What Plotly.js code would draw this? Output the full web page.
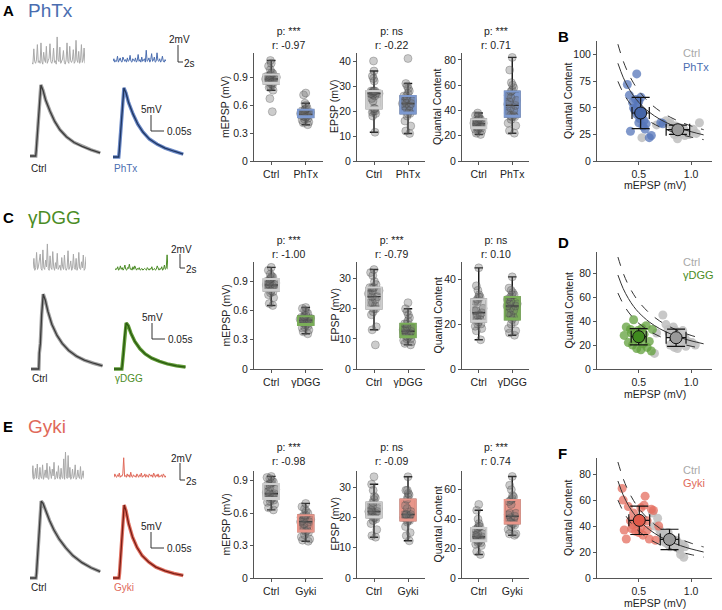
<!DOCTYPE html>
<html>
<head>
<meta charset="utf-8">
<script src="https://cdn.plot.ly/plotly-3.0.1.min.js"></script>
<style>
  html, body { margin: 0; padding: 0; background: #fff; }
  #chart { width: 722px; height: 610px; }
</style>
</head>
<body>
<div id="chart"></div>
<script>
// ---------- data ----------
var conditions = ["PhTx", "γDGG", "Gyki"];
var metricTitles = ["mEPSP (mV)", "EPSP (mV)", "Quantal Content"];

// PhTx row (one entry per cell, mEPSP and quantal content paired)
var phtxCtrlMepsp = [0.53,0.67,0.76,0.79,0.80,0.82,0.83,0.84,0.85,0.86,0.87,0.87,0.88,0.88,0.89,0.90,0.90,0.91,0.92,0.93,0.94,0.95,0.98,1.02,1.05,1.08];
var phtxCtrlQc    = [22,34,38,35,36,33,31,25,33,32,29,21,30,27,28,31,26,29,28,30,24,27,25,30,26,36];
var phtxCtrlEpsp  = [27,26,28,27.5,28,26.5,36,40,20,21,28,27,25,33,19,11.5,19.5,28,27,34,18,32,27,21,20,24];
var phtxMepsp = [0.39,0.41,0.42,0.44,0.45,0.46,0.47,0.48,0.48,0.49,0.50,0.50,0.50,0.51,0.51,0.52,0.53,0.54,0.55,0.56,0.57,0.60,0.62,0.71,0.73];
var phtxQc    = [72,62,28,55,50,48,58,82,44,52,45,56,36,47,40,60,42,33,38,30,35,22,24,36,35];
var phtxEpsp  = [23,22,25,26,19,24,31,41,14,20,12,27,23,30,18,22,11,26,28,19,24,21,29,16,23];
var phtxStats = [["***", "-0.97"], ["ns", "-0.22"], ["***", "0.71"]];

// γDGG row
var dggCtrlMepsp = [0.65,0.67,0.73,0.76,0.78,0.79,0.80,0.83,0.83,0.84,0.85,0.86,0.86,0.86,0.87,0.88,0.89,0.90,0.92,0.93,0.94,0.95,0.97,1.01,1.04];
var dggCtrlQc    = [13,30,45,37,33,30,20,35,24,18,32,26,22,31,17,25,27,21,32,24,26,19,23,22,20];
var dggCtrlEpsp  = [24,22,26,27,20,33,32,28,19,25,21,27,14,13,24,23,29,18,26,31,22,8,20,27,25];
var dggMepsp = [0.36,0.38,0.40,0.42,0.43,0.44,0.45,0.46,0.47,0.48,0.49,0.50,0.50,0.51,0.51,0.52,0.53,0.53,0.54,0.55,0.57,0.58,0.60,0.62,0.63];
var dggQc    = [28,35,22,33,30,20,41,25,29,17,32,27,24,31,28,16,26,34,21,29,36,18,23,15,33];
var dggEpsp  = [12,13,15,16,10,22,19,9,8,12,14,11,17,9.5,12.5,15,13,10,18,8.5,14,11,20,12,10.5];
var dggStats = [["***", "-1.00"], ["***", "-0.79"], ["ns", "0.10"]];

// Gyki row
var gykiCtrlMepsp = [0.63,0.65,0.68,0.70,0.71,0.72,0.73,0.74,0.75,0.76,0.77,0.78,0.78,0.79,0.80,0.82,0.84,0.86,0.87,0.88,0.89,0.90,0.92,0.93,0.94];
var gykiCtrlQc    = [50,40,46,37,35,33,34,28,30,27,29,35,26,28,24,30,25,29,23,27,22,18,26,16,24];
var gykiCtrlEpsp  = [22,21,24,26,20,33.5,31,14,13.5,23,22.5,19,27,18,22,25,21,20,29,16,24,21.5,26.5,22,19.5];
var gykiMepsp = [0.34,0.35,0.36,0.38,0.40,0.42,0.43,0.44,0.45,0.47,0.48,0.50,0.52,0.52,0.53,0.54,0.55,0.56,0.58,0.58,0.60,0.62,0.64,0.66,0.69];
var gykiQc    = [69,60,37,30,55,44,38,41,50,36,42,35,54,39,43,33,56,63,37,44,30,53,52,29,40];
var gykiEpsp  = [21,20,23,28,19,33.5,29,12.3,15,21,22,18.5,27.5,17,20.5,26,21,19.5,29,14,24,20,27,21,19];
var gykiStats = [["***", "-0.98"], ["ns", "-0.09"], ["***", "0.74"]];

// quantal-content vs mEPSP curves (solid = expected, dashed = bounds)
var fitX = [0.3,0.35,0.4,0.45,0.5,0.6,0.7,0.8,0.9,1.0,1.12];
var phtxFit   = [92,78.9,69,61.3,55.2,46,39.4,34.5,30.7,27.6,24.6];
var phtxFitHi = [110,94.3,82.5,73.3,66,55,47.1,41.3,36.7,33,29.5];
var phtxFitLo = [75,64.3,56.3,50,45,37.5,32.1,28.1,25,22.5,20.1];
var dggFit    = [78.3,67.1,58.8,52.2,47,39.2,33.6,29.4,26.1,23.5,21];
var dggFitHi  = [93.3,80,70,62.2,56,46.7,40,35,31.1,28,25];
var dggFitLo  = [63.3,54.3,47.5,42.2,38,31.7,27.1,23.8,21.1,19,17];
var gykiFit   = [74.7,64,56,49.8,44.8,37.3,32,28,24.9,22.4,20];
var gykiFitHi = [89.3,76.6,67,59.6,53.6,44.7,38.3,33.5,29.8,26.8,23.9];
var gykiFitLo = [60,51.4,45,40,36,30,25.7,22.5,20,18,16.1];

// spontaneous recordings (mV above baseline, one sample every 0.35 s)
var phtxCtrlNoise = [0.3,0.1,1.9,0.4,0.2,0.6,2.4,0.3,0.5,0.2,2.6,0.4,0.1,1.5,0.6,0.3,2.2,0.2,0.5,0.8,2.5,0.4,0.2,0.6,2.0,0.3,0.5,0.1,3.3,0.6,0.4,2.1,0.2,0.5,0.7,1.7,0.3,0.1,0.6,2.6,0.4,0.2,2.2,0.5,0.3,0.6,1.8,0.2,0.4,2.9,0.6,0.3,1.6,0.2,0.5,2.4,0.3,0.6,2.0,0.2];
var phtxNoise     = [0.2,0.5,0.1,0.3,0.2,0.8,0.1,0.3,0.6,0.2,0.1,0.7,0.3,0.2,0.4,0.1,0.6,0.2,0.3,0.9,0.2,0.1,0.5,0.3,0.2,0.6,0.1,0.3,1.0,0.2,0.4,0.1,0.7,0.2,0.3,0.5,0.1,1.5,0.2,0.3,0.6,0.1,0.4,1.1,0.2,0.3,0.7,0.1,0.2,1.2,0.3,0.2,0.5,0.1,0.3,0.8,0.2,0.1,0.4,0.2];
var dggCtrlNoise  = [0.4,1.6,0.2,0.5,2.3,0.3,0.6,1.2,2.1,0.4,0.2,2.6,0.5,0.3,1.4,0.6,3.3,0.4,0.2,1.9,0.5,0.3,2.4,0.6,0.2,1.1,0.4,2.2,0.3,0.5,0.8,0.2,1.7,0.6,0.3,2.0,0.4,0.2,0.5,2.5,0.3,0.6,1.3,0.2,0.4,2.1,0.5,0.3,1.6,0.2,0.6,2.3,0.4,0.3,1.2,0.5,2.0,0.2,0.4,1.8];
var dggNoise      = [0.1,0.3,0.2,0.5,0.1,0.2,0.6,0.2,0.4,0.1,0.3,0.7,0.2,0.1,0.4,0.3,0.8,0.2,0.3,0.1,0.5,0.2,0.6,0.3,0.1,0.3,0.2,0.4,0.1,0.2,0.3,0.1,0.2,0.3,0.2,0.1,0.4,0.2,0.1,0.3,0.2,0.5,0.1,0.2,0.3,0.1,0.2,0.6,0.2,0.1,0.3,0.2,0.5,0.1,0.2,0.7,0.2,0.3,1.9,0.2];
var gykiCtrlNoise = [0.3,1.8,0.2,0.5,1.5,0.3,2.0,0.4,0.2,1.6,0.5,0.3,1.9,0.2,0.6,1.3,0.4,2.1,0.3,0.2,1.7,0.5,0.3,1.4,0.6,2.2,0.2,0.4,1.1,0.3,1.8,0.5,0.2,1.5,0.4,0.3,2.6,0.2,3.4,0.5,0.3,3.0,0.4,1.6,0.2,0.5,1.4,0.3,0.6,1.9,0.2,0.4,1.3,0.5,0.3,1.7,0.2,0.6,1.2,0.3];
var gykiNoise     = [0.2,0.6,0.3,0.2,0.5,0.3,0.7,0.2,0.4,0.3,0.6,2.5,0.3,0.4,0.2,0.6,0.3,0.5,0.2,0.8,0.3,0.2,0.5,0.3,0.4,0.2,0.6,0.3,0.2,0.5,0.3,0.7,0.2,0.4,0.3,0.6,0.2,0.5,0.3,0.2,0.6,0.4,0.3,0.5,0.2,0.7,0.3,0.2,0.5,0.3,0.6,0.2,0.4,0.3,0.5,0.2,0.6,0.3,0.2,0.4];

// averaged evoked EPSPs (time in s, voltage in mV above baseline)
var phtxTime = [0,0.022,0.024,0.03,0.036,0.042,0.05,0.06,0.077,0.095,0.115,0.14,0.17,0.2,0.235,0.27];
var phtxCtrlEpspTrace = [0,0,1.8,9,17,22.2,20.5,17.5,14,10.8,8.2,6.0,4.2,3.0,1.9,1.0];
var phtxEpspTrace     = [0,0,1.8,8.5,16.5,21.6,20,17,13.4,10.3,7.8,5.6,4.0,2.8,1.8,0.9];
var dggTime = [0,0.03,0.032,0.036,0.041,0.047,0.055,0.065,0.08,0.1,0.12,0.145,0.175,0.205,0.24,0.275];
var dggCtrlEpspTrace = [0,0,5,8,17,23.4,21.5,18,14,10.5,8,5.8,4.0,2.8,1.8,1.0];
var dggEpspTrace     = [0,0,1.5,4.5,10.5,14.4,13.5,11.2,8.6,6.3,4.7,3.4,2.4,1.6,1.0,0.6];
var gykiTime = [0,0.023,0.025,0.03,0.036,0.043,0.05,0.06,0.075,0.092,0.112,0.137,0.165,0.2,0.235,0.27];
var gykiCtrlEpspTrace = [0,0,1.4,8,17,24,23.3,21,18,15,12.2,9.5,7.0,4.8,3.2,2.0];
var gykiEpspTrace     = [0,0,1.4,8,17,22.8,21,17,12.8,9.6,7,5,3.4,2.2,1.4,0.8];

// ---------- page geometry and styling ----------
var W = 722, H = 610;
var FONT = "Liberation Sans, Arial, sans-serif";
var AX = "#555";

var rowStyle = [
  { title: "PhTx", letter: "A", letter2: "B", color: "#4a6db0", dark: "#1f3662", band: "#6a88c6", fill: "#7d99cf", pt: "rgba(85,118,185,0.75)", mean: "#4465a8",
    mepsp: [phtxCtrlMepsp, phtxMepsp], epsp: [phtxCtrlEpsp, phtxEpsp], qc: [phtxCtrlQc, phtxQc], stats: phtxStats,
    fit: [phtxFit, phtxFitHi, phtxFitLo], noise: [phtxCtrlNoise, phtxNoise], time: phtxTime, traces: [phtxCtrlEpspTrace, phtxEpspTrace],
    box: [53, 161], sc: [41, 161], ranges: [1.16, 43.2, 85.5, 113], dticks: [0.3, 10, 20, 25],
    statY: 38, letterY: 10, letter2Y: 36, legY: [53, 67], xTitleY: 185,
    noiseX: [[32, 85], [113, 166]], noiseBase: [65, 63], epspX: [30, 113], epspBase: [156, 157], labelY: 168,
    sBar: [178, 45, 62], eBar: [151, 115, 131] },
  { title: "γDGG", letter: "C", letter2: "D", color: "#4b8c25", dark: "#2a5a10", band: "#5f9a35", fill: "#7aae58", pt: "rgba(98,160,60,0.75)", mean: "#3f8a1e",
    mepsp: [dggCtrlMepsp, dggMepsp], epsp: [dggCtrlEpsp, dggEpsp], qc: [dggCtrlQc, dggQc], stats: dggStats,
    fit: [dggFit, dggFitHi, dggFitLo], noise: [dggCtrlNoise, dggNoise], time: dggTime, traces: [dggCtrlEpspTrace, dggEpspTrace],
    box: [262, 369], sc: [252, 369], ranges: [1.095, 35.5, 47.6, 97.5], dticks: [0.3, 10, 20, 20],
    statY: 247, letterY: 217, letter2Y: 243, legY: [262, 275], xTitleY: 394,
    noiseX: [[33, 86], [115, 168]], noiseBase: [272, 271], epspX: [31, 114], epspBase: [369, 369], labelY: 378,
    sBar: [180, 254, 268], eBar: [152, 323, 339] },
  { title: "Gyki", letter: "E", letter2: "F", color: "#e0695a", dark: "#7a1c14", band: "#e07060", fill: "#e8968a", pt: "rgba(228,110,95,0.75)", mean: "#e05a4a",
    mepsp: [gykiCtrlMepsp, gykiMepsp], epsp: [gykiCtrlEpsp, gykiEpsp], qc: [gykiCtrlQc, gykiQc], stats: gykiStats,
    fit: [gykiFit, gykiFitHi, gykiFitLo], noise: [gykiCtrlNoise, gykiNoise], time: gykiTime, traces: [gykiCtrlEpspTrace, gykiEpspTrace],
    box: [471, 578], sc: [458, 578], ranges: [0.99, 35.4, 72.7, 92.4], dticks: [0.3, 10, 20, 20],
    statY: 454, letterY: 426, letter2Y: 453, legY: [470, 483], xTitleY: 603,
    noiseX: [[32, 84], [114, 166]], noiseBase: [481, 479], epspX: [30, 113], epspBase: [578, 578], labelY: 587,
    sBar: [180, 463, 480], eBar: [151, 532, 548] }
];
var boxCols = [[254, 323], [357, 425], [462, 529]];
var boxTitleX = [225, 334, 437];
var scCol = [597, 712];
var scTitleX = 568;

var data = [];
var layout = {
  width: W, height: H, margin: { l: 0, r: 0, t: 0, b: 0 },
  paper_bgcolor: "#fff", plot_bgcolor: "rgba(0,0,0,0)", showlegend: false,
  font: { family: FONT, size: 11, color: "#222" },
  annotations: [], shapes: []
};

var axCount = 0;
function newAxes(b, xo, yo) {
  axCount++;
  var s = axCount === 1 ? "" : String(axCount);
  layout["xaxis" + s] = Object.assign({ domain: [b[0] / W, b[1] / W], anchor: "y" + s, fixedrange: true }, xo);
  layout["yaxis" + s] = Object.assign({ domain: [1 - b[3] / H, 1 - b[2] / H], anchor: "x" + s, fixedrange: true }, yo);
  return { xaxis: "x" + s, yaxis: "y" + s };
}
function text(t, x, y, o) {
  layout.annotations.push(Object.assign({ text: t, x: x / W, y: 1 - y / H, xref: "paper", yref: "paper",
    xanchor: "left", yanchor: "middle", showarrow: false, borderpad: 0,
    font: { family: FONT, size: 10, color: "#222" } }, o));
}
function line(x0, y0, x1, y1) {
  layout.shapes.push({ type: "line", xref: "paper", yref: "paper", x0: x0 / W, x1: x1 / W, y0: 1 - y0 / H, y1: 1 - y1 / H,
    line: { color: "#333", width: 1 } });
}
function mean(a) { return a.reduce(function (s, v) { return s + v; }, 0) / a.length; }
function sd(a) { var m = mean(a); return Math.sqrt(a.reduce(function (s, v) { return s + (v - m) * (v - m); }, 0) / (a.length - 1)); }
function med(s) { var n = s.length, h = Math.floor(n / 2); return n % 2 ? s[h] : (s[h - 1] + s[h]) / 2; }
// quartiles, same "inclusive" rule the box traces use
function quartiles(a) {
  var s = a.slice().sort(function (p, q) { return p - q; }), n = s.length, h = Math.floor(n / 2);
  var lo = n % 2 ? s.slice(0, h + 1) : s.slice(0, h);
  var hi = s.slice(h);
  return [med(lo), med(hi)];
}

var hidden = { visible: false };
var lineAxis = { showline: true, linecolor: AX, linewidth: 1, ticks: "outside", ticklen: 3, tickcolor: AX,
  showgrid: false, zeroline: false, tickfont: { family: FONT, size: 10.5, color: "#222" } };
var titleFont = { family: FONT, size: 10.5, color: "#222" };

rowStyle.forEach(function (r) {
  var names = ["Ctrl", r.title];

  // headings
  text("<b>" + r.letter + "</b>", 2, r.letterY, { font: { family: FONT, size: 15, color: "#000" } });
  text(r.title, 27, r.letterY, { font: { family: FONT, size: 19, color: r.color } });
  text("<b>" + r.letter2 + "</b>", 557, r.letter2Y, { font: { family: FONT, size: 15, color: "#000" } });

  // spontaneous traces
  for (var k = 0; k < 2; k++) {
    var nx = r.noiseX[k], nb = r.noiseBase[k];
    var a = newAxes([nx[0], nx[1], nb - 32, nb + 3], Object.assign({ range: [0, 20.65] }, hidden),
      Object.assign({ range: [-3 / 8.5, 32 / 8.5] }, hidden));
    data.push({ type: "scatter", mode: "lines", y: r.noise[k], x0: 0, dx: 0.35, xaxis: a.xaxis, yaxis: a.yaxis,
      line: { color: k === 0 ? "#a9a9a9" : r.color, width: 1 }, hoverinfo: "skip" });
  }
  // evoked EPSPs
  for (k = 0; k < 2; k++) {
    var ex = r.epspX[k], eb = r.epspBase[k];
    var e = newAxes([ex, ex + 74, eb - 80, eb + 4], Object.assign({ range: [0, 74 / 260] }, hidden),
      Object.assign({ range: [-4 / 3.2, 80 / 3.2] }, hidden));
    data.push({ type: "scatter", mode: "lines", x: r.time, y: r.traces[k], xaxis: e.xaxis, yaxis: e.yaxis,
      line: { color: k === 0 ? "#a0a0a0" : r.band, width: 3.5 }, hoverinfo: "skip" });
    data.push({ type: "scatter", mode: "lines", x: r.time, y: r.traces[k], xaxis: e.xaxis, yaxis: e.yaxis,
      line: { color: k === 0 ? "#3a3a3a" : r.dark, width: 1.3 }, hoverinfo: "skip" });
    text(names[k], ex, r.labelY, { font: { family: FONT, size: 10, color: k === 0 ? "#222" : r.color } });
  }
  // scale bars
  var sb = r.sBar, eb2 = r.eBar;
  line(sb[0], sb[1], sb[0], sb[2]); line(sb[0], sb[2], sb[0] + 5, sb[2]);
  text("2mV", sb[0] + 1, sb[1] - 5, { xanchor: "center" });
  text("2s", sb[0] + 5, sb[2] + 1);
  line(eb2[0], eb2[1], eb2[0], eb2[2]); line(eb2[0], eb2[2], eb2[0] + 13, eb2[2]);
  text("5mV", eb2[0], eb2[1] - 6, { xanchor: "center" });
  text("0.05s", eb2[0] + 15, eb2[2]);

  // box plots
  var metrics = [r.mepsp, r.epsp, r.qc];
  metrics.forEach(function (m, j) {
    var b = newAxes([boxCols[j][0], boxCols[j][1], r.box[0], r.box[1]],
      Object.assign({}, lineAxis, { type: "category", categoryarray: names, range: [-0.5, 1.5] }),
      Object.assign({}, lineAxis, { range: [0, r.ranges[j]], dtick: r.dticks[j], tick0: 0 }));
    for (var g = 0; g < 2; g++) {
      var fill = g === 0 ? "#cdcdcd" : r.fill;
      data.push({ type: "box", y: m[g], x0: names[g], name: names[g], xaxis: b.xaxis, yaxis: b.yaxis,
        quartilemethod: "inclusive", boxpoints: "all", jitter: 0.75, pointpos: 0, width: 0.45, whiskerwidth: 0.55,
        fillcolor: fill, line: { color: "#111", width: 1.4 },
        marker: { size: 8, color: "rgba(110,110,110,0.35)", line: { color: "rgba(60,60,60,0.35)", width: 0.8 } },
        hoverinfo: "skip" });
      // repaint the box edge in the fill colour, so only median and whiskers stay dark
      var q = quartiles(m[g]);
      data.push({ type: "box", x: [names[g]], q1: [q[0]], median: [q[0]], q3: [q[1]], lowerfence: [q[0]], upperfence: [q[1]],
        xaxis: b.xaxis, yaxis: b.yaxis, width: 0.45, whiskerwidth: 0, fillcolor: "rgba(0,0,0,0)",
        line: { color: fill, width: 2 }, hoverinfo: "skip" });
    }
    text(metricTitles[j], boxTitleX[j], (r.box[0] + r.box[1]) / 2, { xanchor: "center", textangle: -90, font: titleFont });
    text("p: " + r.stats[j][0] + "<br>r: " + r.stats[j][1], (boxCols[j][0] + boxCols[j][1]) / 2, r.statY,
      { xanchor: "center", font: { family: FONT, size: 10.5, color: "#222" } });
  });

  // quantal content vs mEPSP
  var s = newAxes([scCol[0], scCol[1], r.sc[0], r.sc[1]],
    Object.assign({}, lineAxis, { range: [0.1, 1.2], tickvals: [0.5, 1.0], tickformat: ".1f" }),
    Object.assign({}, lineAxis, { range: [0, r.ranges[3]], dtick: r.dticks[3], tick0: 0 }));
  data.push({ type: "scatter", mode: "markers", x: r.mepsp[0], y: r.qc[0], xaxis: s.xaxis, yaxis: s.yaxis,
    marker: { size: 9, color: "rgba(190,190,190,0.85)" }, hoverinfo: "skip" });
  data.push({ type: "scatter", mode: "markers", x: r.mepsp[1], y: r.qc[1], xaxis: s.xaxis, yaxis: s.yaxis,
    marker: { size: 9, color: r.pt }, hoverinfo: "skip" });
  r.fit.forEach(function (f, i) {
    data.push({ type: "scatter", mode: "lines", x: fitX, y: f, xaxis: s.xaxis, yaxis: s.yaxis, line: { shape: "spline",
      color: "#333", width: 1, dash: i === 0 ? "solid" : "dash" }, hoverinfo: "skip" });
  });
  for (var g = 0; g < 2; g++) {
    var mx = r.mepsp[g], my = r.qc[g];
    data.push({ type: "scatter", mode: "markers", x: [mean(mx)], y: [mean(my)], xaxis: s.xaxis, yaxis: s.yaxis,
      marker: { size: 12, color: g === 0 ? "#9a9a9a" : r.mean, line: { color: "#111", width: 1 } },
      error_x: { type: "data", array: [sd(mx)], color: "#111", thickness: 1.2, width: 6 },
      error_y: { type: "data", array: [sd(my)], color: "#111", thickness: 1.2, width: 9 },
      hoverinfo: "skip" });
  }
  text("Quantal Content", scTitleX, (r.sc[0] + r.sc[1]) / 2, { xanchor: "center", textangle: -90, font: titleFont });
  text("mEPSP (mV)", (scCol[0] + scCol[1]) / 2, r.xTitleY, { xanchor: "center", font: titleFont });
  text("Ctrl", 682, r.legY[0], { font: { family: FONT, size: 11, color: "#a8a8a8" } });
  text(r.title, 682, r.legY[1], { font: { family: FONT, size: 11, color: r.color } });
});

Plotly.newPlot("chart", data, layout, { staticPlot: true, displayModeBar: false });
</script>
</body>
</html>
